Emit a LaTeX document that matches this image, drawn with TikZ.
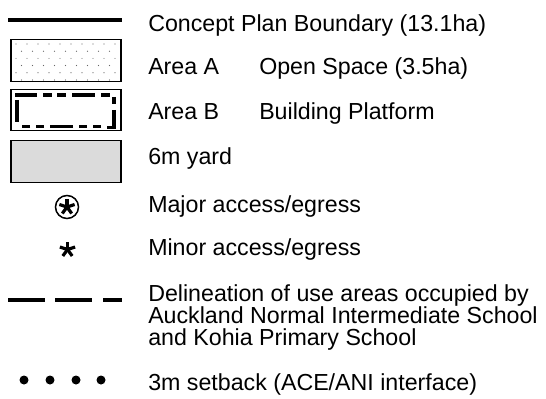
\documentclass[tikz,border=0pt]{standalone}
\usepackage{fontspec}
\setmainfont{Liberation Sans}
\begin{document}
\begin{tikzpicture}[x=0.75pt,y=-0.75pt,
  lbl/.style={anchor=base west,inner sep=0pt,font=\fontsize{17.4}{16.5}\selectfont},
  boxstyle/.style={draw=black,line width=1.5*0.75pt},
  bdash/.style={line width=3.4*0.75pt,line cap=butt},
  astk/.style={line width=3.2*0.75pt,line cap=butt}]
\useasboundingbox (0,0) rectangle (546,399);
% 1 boundary line
\draw[line width=4.8*0.75pt] (8,20) -- (122,20);
\node[lbl] (t1) at (148,32) {Concept Plan Boundary (13.1ha)};
% 2 Area A
\node[boxstyle,minimum width=110*0.75pt,minimum height=42*0.75pt,inner sep=0pt,anchor=north west] (boxA) at (10,39) {};
\foreach \r in {0,...,5}{
  \pgfmathsetmacro{\yy}{44+\r*7.2}
  \pgfmathsetmacro{\off}{mod(\r,2)==0 ? 16 : 21.5}
  \foreach \c in {0,...,9}{
    \pgfmathsetmacro{\xx}{\off+\c*11}
    \ifdim \xx pt<118pt
      \fill[black!60] (\xx,\yy) circle (0.6*0.75pt);
    \fi
  }
}
\node[lbl] (t2) at (148,75) {Area A};
\node[lbl] (t2b) at (259,75) {Open Space (3.5ha)};
% 3 Area B
\node[boxstyle,minimum width=110*0.75pt,minimum height=41*0.75pt,inner sep=0pt,anchor=north west] (boxB) at (10,89) {};
\draw[bdash] (15,95) -- (37,95);
\draw[bdash] (43,95) -- (52,95);
\draw[bdash] (57,95) -- (66,95);
\draw[bdash] (72,95) -- (95,95);
\draw[bdash] (101,95) -- (110,95);
\draw[bdash] (114,97) -- (114,104);
\draw[bdash] (114,110) -- (114,127.5) -- (107,127.5);
\draw[bdash] (101,126.5) -- (93,126.5);
\draw[bdash] (87,126.5) -- (79,126.5);
\draw[bdash] (73,126.5) -- (50,126.5);
\draw[bdash] (44,126.5) -- (36,126.5);
\draw[bdash] (30,126.5) -- (22,126.5);
\draw[bdash] (17,100) -- (17,122);
\node[lbl] (t3) at (148,120) {Area B};
\node[lbl] (t3b) at (259,120) {Building Platform};
% 4 yard
\node[boxstyle,fill=black!14,minimum width=110*0.75pt,minimum height=42*0.75pt,inner sep=0pt,anchor=north west] (boxC) at (10,140) {};
\node[lbl] (t4) at (148,165) {6m yard};
% 5 major access
\node[draw,circle,line width=1.5*0.75pt,minimum size=23*0.75pt,inner sep=0pt] (maj) at (67,207) {};
\foreach \a in {90,162,234,306,18}{
  \draw[astk] (maj.center) -- ++(\a:-8);
}
\node[lbl] (t5) at (148,212) {Major access/egress};
% 6 minor access
\coordinate (mino) at (67.5,249.5);
\foreach \a in {90,162,234,306,18}{
  \draw[astk] (mino) -- ++(\a:-8);
}
\node[lbl] (t6) at (148,255) {Minor access/egress};
% 7 delineation
\draw[line width=4.8*0.75pt] (8,300) -- (45,300);
\draw[line width=4.8*0.75pt] (55,300) -- (92,300);
\draw[line width=4.8*0.75pt] (103,300) -- (122,300);
\node[lbl,align=left,anchor=north west] (t7) at (148,284.5) {Delineation of use areas occupied by\\Auckland Normal Intermediate School\\and Kohia Primary School};
% 8 setback dots
\foreach \xx in {24,50,76,101}{
  \fill (\xx,380) circle (4.5*0.75pt);
}
\node[lbl] (t8) at (148,390) {3m setback (ACE/ANI interface)};
\end{tikzpicture}
\end{document}
